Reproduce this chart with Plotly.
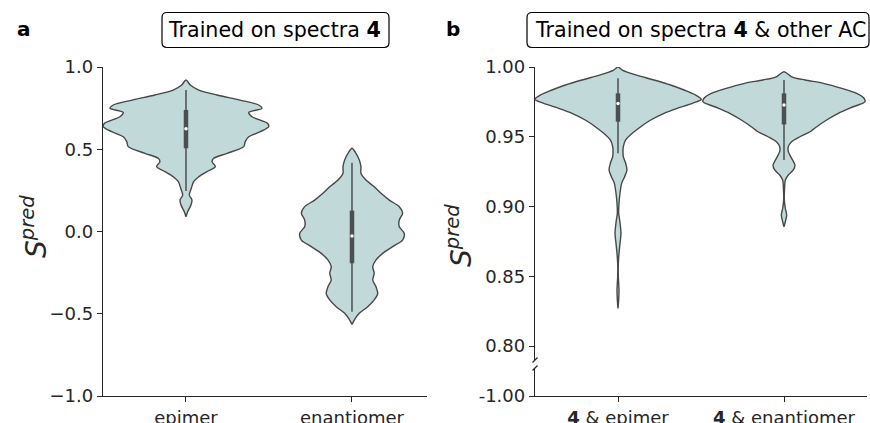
import plotly.graph_objects as go

W, H = 870, 423

# ---------------- data ----------------
a_ticklabels = ["epimer", "enantiomer"]
b_ticklabels = ["<b>4</b> &amp; epimer", "<b>4</b> &amp; enantiomer"]

a_yticks = [-1.0, -0.5, 0.0, 0.5, 1.0]
a_yticktext = ["\u22121.0", "\u22120.5", "0.0", "0.5", "1.0"]
b_yticks = [0.80, 0.85, 0.90, 0.95, 1.00]
b_yticktext = ["0.80", "0.85", "0.90", "0.95", "1.00"]
b_low_ticks = [-1.00]
b_low_ticktext = ["-1.00"]

# violin outlines: S_pred levels and half widths (category units)
epi_y = [0.921, 0.891, 0.860, 0.830, 0.799, 0.769, 0.749, 0.724, 0.698, 0.657,
         0.637, 0.607, 0.576, 0.546, 0.516, 0.475, 0.445, 0.424, 0.394, 0.364,
         0.333, 0.303, 0.263, 0.222, 0.191, 0.161, 0.120, 0.090]
epi_w = [0.0, 0.026, 0.077, 0.187, 0.325, 0.438, 0.458, 0.378, 0.398, 0.492,
         0.498, 0.448, 0.378, 0.357, 0.348, 0.247, 0.167, 0.157, 0.177, 0.127,
         0.077, 0.046, 0.032, 0.020, 0.036, 0.030, 0.010, 0.0]

ena_y = [0.506, 0.475, 0.435, 0.394, 0.354, 0.313, 0.272, 0.232, 0.191, 0.151,
         0.111, 0.070, 0.029, -0.011, -0.052, -0.092, -0.133, -0.173, -0.214,
         -0.254, -0.295, -0.336, -0.376, -0.416, -0.457, -0.497, -0.528, -0.565]
ena_w = [0.0, 0.024, 0.044, 0.054, 0.054, 0.084, 0.134, 0.175, 0.225, 0.285,
         0.305, 0.285, 0.285, 0.315, 0.305, 0.245, 0.185, 0.145, 0.125, 0.134,
         0.125, 0.145, 0.155, 0.134, 0.095, 0.044, 0.020, 0.0]

b1_y = [1.000, 0.9978, 0.9943, 0.9907, 0.9871, 0.9835, 0.9799, 0.9768, 0.9740,
        0.9704, 0.9668, 0.9620, 0.9572, 0.9525, 0.9477, 0.9429, 0.9393, 0.9357,
        0.9310, 0.9262, 0.9214, 0.9166, 0.9095, 0.9023, 0.8951, 0.8903, 0.8808,
        0.8736, 0.8664, 0.8593, 0.8497, 0.8401, 0.8330, 0.8270]
b1_w = [0.0, 0.026, 0.107, 0.217, 0.317, 0.398, 0.468, 0.502, 0.448, 0.357,
        0.277, 0.197, 0.137, 0.086, 0.046, 0.032, 0.030, 0.032, 0.046, 0.054,
        0.040, 0.022, 0.012, 0.006, 0.004, 0.010, 0.018, 0.012, 0.006, 0.002,
        0.002, 0.006, 0.004, 0.0]

b2_y = [0.9966, 0.9930, 0.9907, 0.9883, 0.9847, 0.9811, 0.9776, 0.9751, 0.9715,
        0.9668, 0.9620, 0.9572, 0.9536, 0.9500, 0.9464, 0.9429, 0.9393, 0.9345,
        0.9297, 0.9262, 0.9226, 0.9190, 0.9142, 0.9047, 0.8987, 0.8939, 0.8891,
        0.8855]
b2_w = [0.0, 0.046, 0.127, 0.237, 0.348, 0.438, 0.482, 0.488, 0.417, 0.327,
        0.257, 0.197, 0.157, 0.096, 0.046, 0.026, 0.026, 0.046, 0.066, 0.056,
        0.026, 0.008, 0.004, 0.002, 0.008, 0.016, 0.008, 0.0]

# inner box stats: whisker low, q1, median, q3, whisker high
epi_box = [0.246, 0.506, 0.624, 0.739, 0.860]
ena_box = [-0.488, -0.193, -0.027, 0.127, 0.418]
b1_box = [0.9381, 0.9608, 0.9738, 0.9811, 0.9919]
b2_box = [0.9333, 0.9588, 0.9728, 0.9811, 0.9907]

# ---------------- styling ----------------
FILL = "rgb(193,217,217)"
EDGE = "#474747"
BOXC = "#4a4f4f"
AXC = "#262626"
FONT = "DejaVu Sans"

fig = go.Figure()


def add_violin(pos, ys, ws, box, xa, ya):
    xs = [pos + w for w in ws] + [pos - w for w in reversed(ws)]
    yy = list(ys) + list(reversed(ys))
    fig.add_trace(go.Scatter(x=xs, y=yy, mode="lines", fill="toself",
                             fillcolor=FILL,
                             line=dict(color=EDGE, width=1.4, shape="spline", smoothing=0.8),
                             xaxis=xa, yaxis=ya, hoverinfo="skip", showlegend=False))
    wlo, q1, med, q3, whi = box
    fig.add_trace(go.Scatter(x=[pos, pos], y=[wlo, whi], mode="lines",
                             line=dict(color=BOXC, width=1.5),
                             xaxis=xa, yaxis=ya, hoverinfo="skip", showlegend=False))
    fig.add_trace(go.Scatter(x=[pos, pos], y=[q1, q3], mode="lines",
                             line=dict(color=BOXC, width=4.5),
                             xaxis=xa, yaxis=ya, hoverinfo="skip", showlegend=False))
    fig.add_trace(go.Scatter(x=[pos], y=[med], mode="markers",
                             marker=dict(color="white", size=3.5),
                             xaxis=xa, yaxis=ya, hoverinfo="skip", showlegend=False))


add_violin(0, epi_y, epi_w, epi_box, "x", "y")
add_violin(1, ena_y, ena_w, ena_box, "x", "y")
add_violin(0, b1_y, b1_w, b1_box, "x2", "y2")
add_violin(1, b2_y, b2_w, b2_box, "x2", "y2")
# keep lower broken axis alive
fig.add_trace(go.Scatter(x=[None], y=[None], xaxis="x2", yaxis="y3",
                         showlegend=False, hoverinfo="skip"))


def px(x):
    return x / W


def py(y):
    return (H - y) / H


axis_common = dict(showline=True, linecolor=AXC, linewidth=1.3, ticks="outside",
                   ticklen=5, tickwidth=1.3, tickcolor=AXC, showgrid=False,
                   zeroline=False, automargin=False,
                   tickfont=dict(family=FONT, size=18, color=AXC))

fig.update_layout(
    width=W, height=H,
    margin=dict(l=0, r=0, t=0, b=0, pad=0, autoexpand=False),
    paper_bgcolor="white", plot_bgcolor="white",
    showlegend=False,
    font=dict(family=FONT, color="black"),
    xaxis=dict(domain=[px(103), px(427)], range=[-0.5, 1.452], anchor="y",
               tickmode="array", tickvals=[0, 1], ticktext=a_ticklabels, **axis_common),
    yaxis=dict(domain=[py(396), py(67)], range=[-1.0, 1.0], anchor="x",
               tickmode="array", tickvals=a_yticks, ticktext=a_yticktext, **axis_common),
    xaxis2=dict(domain=[px(535), px(867)], range=[-0.5, 1.5], anchor="y3",
                tickmode="array", tickvals=[0, 1], ticktext=b_ticklabels, **axis_common),
    yaxis2=dict(domain=[py(360), py(67)], range=[0.790, 1.0], anchor="x2",
                tickmode="array", tickvals=b_yticks, ticktext=b_yticktext, **axis_common),
    yaxis3=dict(domain=[py(396), py(368)], range=[-1.0, -0.96], anchor="x2",
                tickmode="array", tickvals=b_low_ticks, ticktext=b_low_ticktext, **axis_common),
)


def rounded_box(x0, y0, x1, y1, r=5):
    rx, ry = r / W, r / H
    X0, X1 = px(x0), px(x1)
    YT, YB = py(y0), py(y1)
    return (f"M {X0+rx},{YT} L {X1-rx},{YT} Q {X1},{YT} {X1},{YT-ry} "
            f"L {X1},{YB+ry} Q {X1},{YB} {X1-rx},{YB} L {X0+rx},{YB} "
            f"Q {X0},{YB} {X0},{YB+ry} L {X0},{YT-ry} Q {X0},{YT} {X0+rx},{YT} Z")


shapes = [
    dict(type="path", xref="paper", yref="paper", path=rounded_box(162, 12.5, 389, 47.5),
         line=dict(color="black", width=1.2), fillcolor="white", layer="below"),
    dict(type="path", xref="paper", yref="paper", path=rounded_box(527, 12.5, 869, 47.5),
         line=dict(color="black", width=1.2), fillcolor="white", layer="below"),
    # axis break marks
    dict(type="line", xref="paper", yref="paper", x0=px(532.5), y0=py(362.5),
         x1=px(537.5), y1=py(357.5), line=dict(color=AXC, width=1.3)),
    dict(type="line", xref="paper", yref="paper", x0=px(532.5), y0=py(370.5),
         x1=px(537.5), y1=py(365.5), line=dict(color=AXC, width=1.3)),
]
fig.update_layout(shapes=shapes)

ann_common = dict(xref="paper", yref="paper", showarrow=False,
                  xanchor="center", yanchor="middle")
annotations = [
    dict(text="<b>a</b>", x=px(24), y=py(29),
         font=dict(family=FONT, size=20, color="black"), **ann_common),
    dict(text="<b>b</b>", x=px(453), y=py(29),
         font=dict(family=FONT, size=20, color="black"), **ann_common),
    dict(text="Trained on spectra <b>4</b>", x=px(274.5), y=py(30),
         font=dict(family=FONT, size=20.6, color="black"), **ann_common),
    dict(text="Trained on spectra <b>4</b> &amp; other AC", x=px(700.5), y=py(30),
         font=dict(family=FONT, size=20.6, color="black"), **ann_common),
    dict(text="<i>S</i><sup><i>pred</i></sup>", x=px(34), y=py(227), textangle=-90,
         font=dict(family=FONT, size=28, color=AXC), **ann_common),
    dict(text="<i>S</i><sup><i>pred</i></sup>", x=px(460), y=py(236), textangle=-90,
         font=dict(family=FONT, size=28, color=AXC), **ann_common),
]
fig.update_layout(annotations=annotations)

fig.write_html(
    "out.html",
    config={"displayModeBar": False},
    post_script="document.body.style.margin='0';document.body.style.overflow='hidden';"
                "document.documentElement.style.overflow='hidden';",
)
